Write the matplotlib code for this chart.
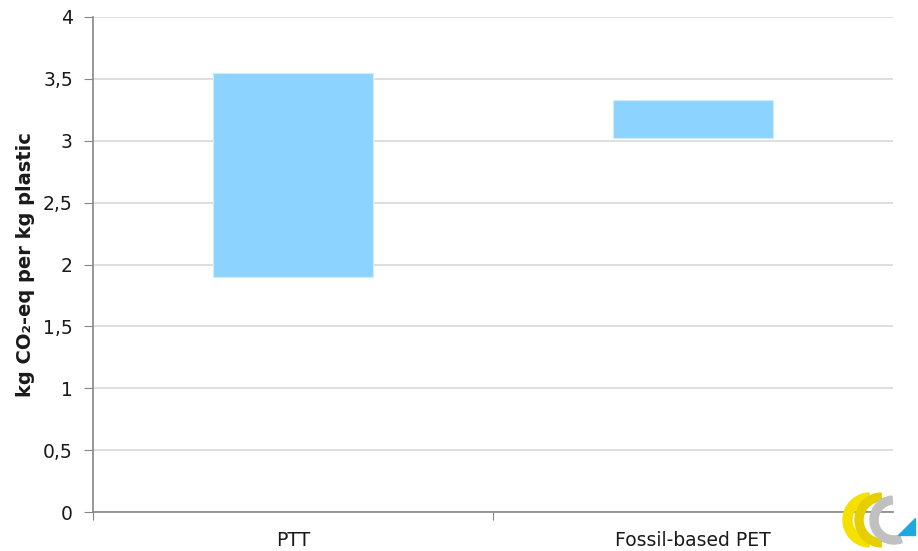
import numpy as np
import matplotlib.pyplot as plt
from matplotlib.patches import Wedge, Polygon

# data
categories = ["PTT", "Fossil-based PET"]
low = [1.9, 3.02]
high = [3.55, 3.33]
yticks = [0, 0.5, 1, 1.5, 2, 2.5, 3, 3.5, 4]
ytick_labels = ["0", "0,5", "1", "1,5", "2", "2,5", "3", "3,5", "4"]

plt.rcParams['font.family'] = ['DejaVu Sans']

fig = plt.figure(figsize=(9.18, 5.51), dpi=100)
ax = fig.add_axes([93 / 918, 1 - 512 / 551, 800 / 918, 495 / 551])

x = np.arange(len(categories))
heights = np.array(high) - np.array(low)
ax.bar(x, heights, bottom=low, width=0.4, color="#8dd3ff",
       edgecolor="#cdeeff", linewidth=0.8, zorder=3)

ax.set_xlim(-0.5, 1.5)
ax.set_ylim(0, 4)
ax.set_yticks(yticks)
ax.set_yticklabels(ytick_labels, fontsize=13.5, color="#1a1a1a")
ax.yaxis.grid(True, color="#d9d9d9", linewidth=1.2, zorder=0)

# boundary ticks on x axis, labels at category centres
ax.set_xticks([-0.5, 0.5])
ax.set_xticklabels(["", ""])
ax.set_xticks(x, minor=True)
ax.set_xticklabels(categories, minor=True, fontsize=13.5, color="#1a1a1a")
ax.tick_params(axis="x", which="minor", length=0, pad=14)
ax.tick_params(axis="x", which="major", length=6, color="#868686", direction="out")
ax.tick_params(axis="y", length=6.5, color="#868686", pad=8, direction="out")

for side in ["top", "right"]:
    ax.spines[side].set_visible(False)
for side in ["left", "bottom"]:
    ax.spines[side].set_color("#868686")
    ax.spines[side].set_linewidth(1.2)

ax.set_ylabel("kg CO₂-eq per kg plastic", fontsize=14, fontweight="bold",
              color="#1a1a1a", labelpad=6)

# small logo in the lower right corner
lax = fig.add_axes([838 / 918, 0, 80 / 918, 64 / 551])
lax.set_xlim(0, 80)
lax.set_ylim(0, 64)
lax.axis("off")
lax.add_patch(Wedge((32, 31), 27, 92, 268, width=9, color="#f5e000"))
lax.add_patch(Wedge((44, 31), 27, 92, 268, width=8, color="#e6cf00"))
lax.add_patch(Wedge((56, 31), 24, 95, 290, width=8, color="#c0c0c0"))
lax.add_patch(Polygon([[60, 16], [77, 16], [77, 33]], closed=True, color="#1fa8e0"))

fig.savefig("out.png", dpi=100)
